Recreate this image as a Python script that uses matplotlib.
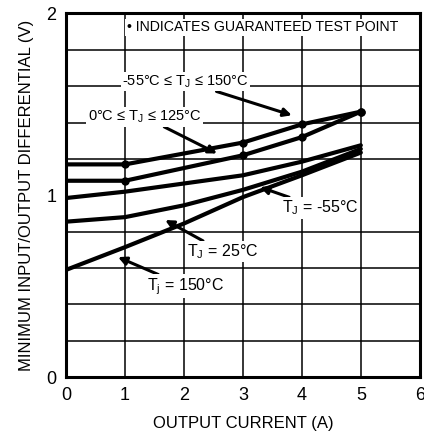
"""Minimum input/output differential vs output current."""

import matplotlib
matplotlib.use("Agg")
import matplotlib.pyplot as plt
from matplotlib import font_manager

# guaranteed curves (-55..150 and 0..125), with test points
guar_x = [0, 1, 2, 3, 4, 5]
guar_wide_v = [1.17, 1.17, 1.23, 1.29, 1.39, 1.46]
guar_narrow_v = [1.08, 1.08, 1.15, 1.22, 1.32, 1.46]
test_x = [1, 3, 4, 5]
test_wide_v = [1.17, 1.29, 1.39, 1.46]
test_narrow_v = [1.08, 1.22, 1.32, 1.46]

# typical curves
typ_x = [0, 1, 2, 3, 4, 5]
tj_m55_v = [0.985, 1.02, 1.065, 1.11, 1.185, 1.275]
tj_25_v = [0.855, 0.88, 0.945, 1.03, 1.13, 1.255]
tj_150_v = [0.59, 0.715, 0.845, 0.99, 1.11, 1.235]

x_ticks = [0, 1, 2, 3, 4, 5, 6]
y_ticks = [0, 1, 2]

names = {f.name for f in font_manager.fontManager.ttflist}
family = ["Liberation Sans Narrow", "DejaVu Sans"] if "Liberation Sans Narrow" in names else ["Liberation Sans", "DejaVu Sans"]
plt.rcParams["font.family"] = family

fig = plt.figure(figsize=(4.24, 4.34), dpi=100)
ax = fig.add_axes([0.156, 0.131, 0.834, 0.838])

ax.set_xlim(0, 6)
ax.set_ylim(0, 2)
ax.set_xticks(x_ticks)
ax.set_yticks(y_ticks)
ax.set_yticks([i * 0.2 for i in range(11)], minor=True)
ax.grid(True, which="minor", axis="y", color="black", linewidth=1.1)
ax.grid(True, which="major", axis="x", color="black", linewidth=1.1)
ax.tick_params(which="both", length=0, labelsize=13, pad=7)
for s in ax.spines.values():
    s.set_linewidth(2.2)

lw = 3.0
ax.plot(guar_x, guar_wide_v, color="black", lw=lw, solid_capstyle="round", zorder=3)
ax.plot(guar_x, guar_narrow_v, color="black", lw=lw, solid_capstyle="round", zorder=3)
ax.plot(typ_x, tj_m55_v, color="black", lw=lw, solid_capstyle="round", zorder=3)
ax.plot(typ_x, tj_25_v, color="black", lw=lw, solid_capstyle="round", zorder=3)
ax.plot(typ_x, tj_150_v, color="black", lw=lw, solid_capstyle="round", zorder=3)
ax.plot(test_x, test_wide_v, "o", color="black", ms=5, zorder=4)
ax.plot(test_x, test_narrow_v, "o", color="black", ms=5, zorder=4)

box = dict(facecolor="white", edgecolor="none", pad=1)
ax.text(1.03, 1.925, "\u2022 INDICATES GUARANTEED TEST POINT", fontsize=10.2, va="center", ha="left", bbox=box, zorder=5)

arrow = dict(arrowstyle="-|>", color="black", lw=2.2, mutation_scale=12, shrinkA=0, shrinkB=0)
ax.annotate("-55\u00b0C \u2264 T$_\\mathregular{J}$ \u2264 150\u00b0C", xy=(3.83, 1.44), xytext=(0.95, 1.625),
            fontsize=10.5, va="center", ha="left", bbox=box, arrowprops=arrow, zorder=5)
ax.annotate("0\u00b0C \u2264 T$_\\mathregular{J}$ \u2264 125\u00b0C", xy=(2.56, 1.23), xytext=(0.37, 1.43),
            fontsize=10.5, va="center", ha="left", bbox=box, arrowprops=arrow, zorder=5)
ax.annotate("T$_\\mathregular{J}$ = -55\u00b0C", xy=(3.29, 1.045), xytext=(3.66, 0.93),
            fontsize=11.5, va="center", ha="left", bbox=box, arrowprops=arrow, zorder=5)
ax.annotate("T$_\\mathregular{J}$ = 25\u00b0C", xy=(1.68, 0.864), xytext=(2.05, 0.69),
            fontsize=11.5, va="center", ha="left", bbox=box, arrowprops=arrow, zorder=5)
ax.annotate("T$_\\mathregular{j}$ = 150\u00b0C", xy=(0.88, 0.66), xytext=(1.37, 0.5),
            fontsize=11.5, va="center", ha="left", bbox=box, arrowprops=arrow, zorder=5)

ax.set_xlabel("OUTPUT CURRENT (A)", fontsize=12, labelpad=9)
ax.set_ylabel("MINIMUM INPUT/OUTPUT DIFFERENTIAL (V)", fontsize=12, labelpad=9)

fig.savefig("out.png", dpi=100)
